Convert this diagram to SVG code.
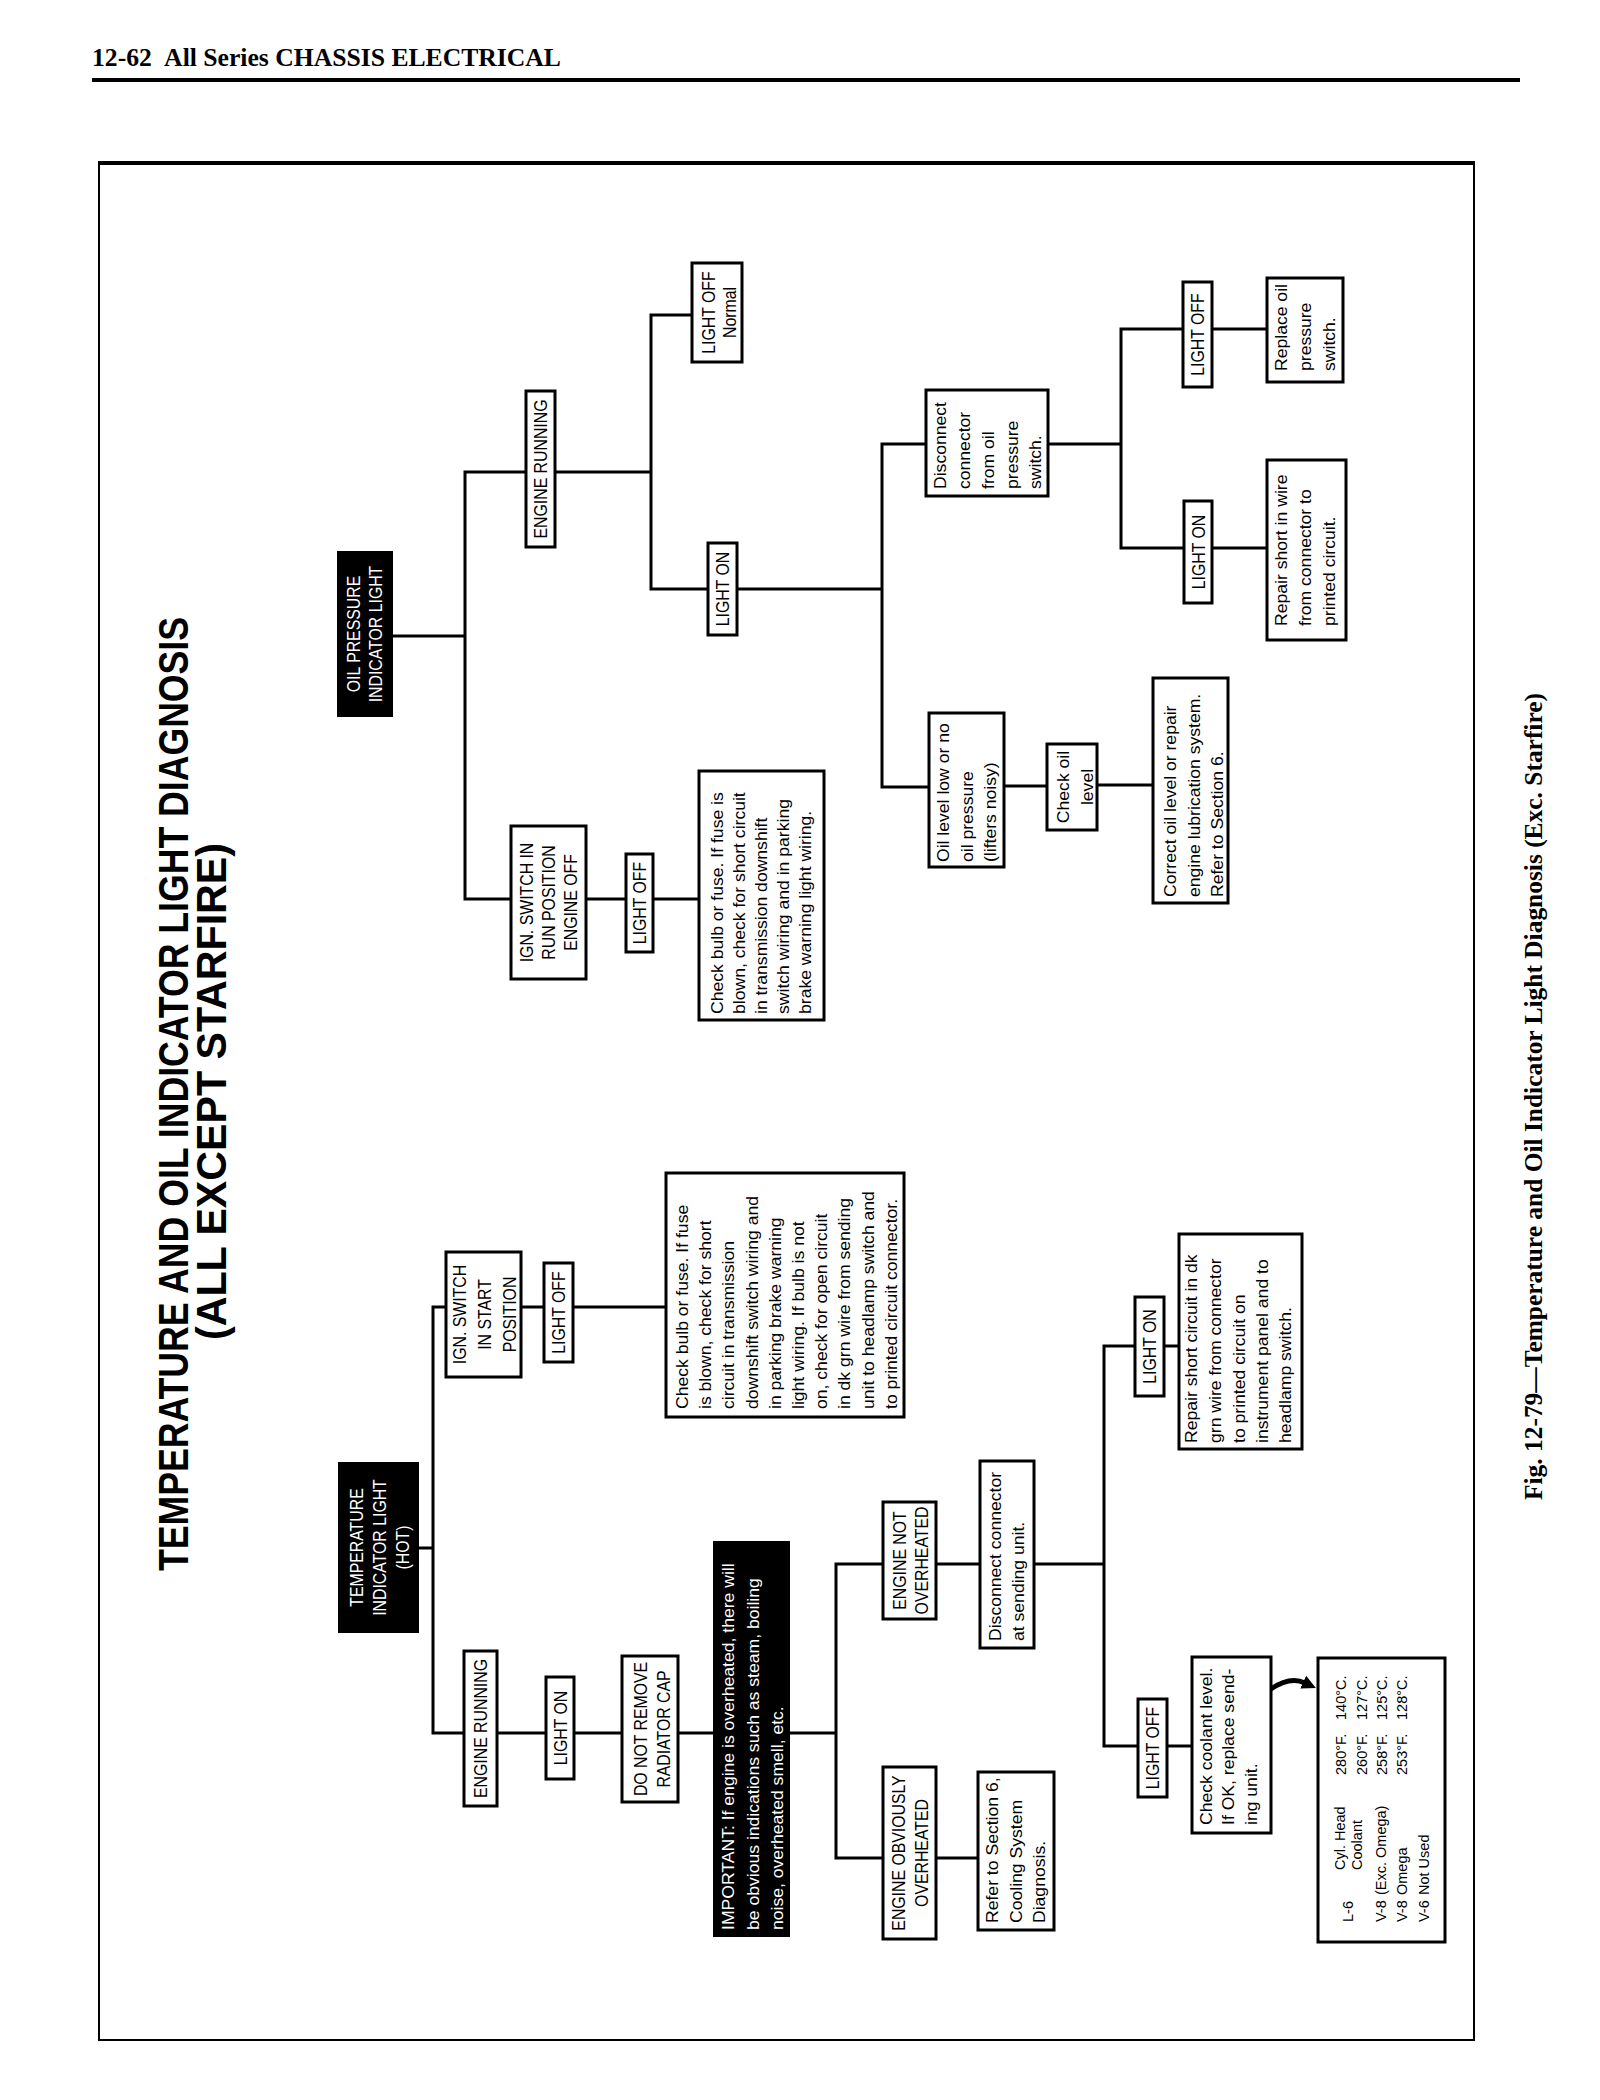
<svg xmlns="http://www.w3.org/2000/svg" width="1600" height="2100" viewBox="0 0 1600 2100">
<style>
.bx{fill:#fff;stroke:#000;stroke-width:3}
.bk{fill:#000;stroke:#000;stroke-width:2}
.lb{font-family:'Liberation Sans',Arial,sans-serif;font-size:18px;fill:#000}
.bd{font-family:'Liberation Sans',Arial,sans-serif;font-size:16px;fill:#000}
.tb{font-family:'Liberation Sans',Arial,sans-serif;font-size:14.5px;fill:#000}
.tt{font-family:'Liberation Sans',Arial,sans-serif;font-size:42px;font-weight:bold;fill:#000}
.cap{font-family:'Liberation Serif','Times New Roman',serif;font-weight:bold;fill:#000}
.w{fill:#fff}
.c{text-anchor:middle}
.cn{fill:none;stroke:#000;stroke-width:3;stroke-linecap:square}
</style>
<defs>
<marker id="ah" markerUnits="userSpaceOnUse" markerWidth="16" markerHeight="16" refX="2" refY="8" orient="auto"><path d="M0,1 L14,8 L0,15 Z" fill="#000"/></marker>
</defs>
<rect width="1600" height="2100" fill="#fff"/>
<g id="header">
<text class="cap" x="92" y="66" font-size="25" textLength="469" lengthAdjust="spacingAndGlyphs">12-62<tspan dx="12">All Series CHASSIS ELECTRICAL</tspan></text>
<line x1="92" y1="80" x2="1520" y2="80" stroke="#000" stroke-width="4"/>
</g>
<g id="frame">
<rect x="99" y="162" width="1375" height="1878" fill="none" stroke="#000" stroke-width="2"/>
<line x1="99" y1="163" x2="1474" y2="163" stroke="#000" stroke-width="4"/>
</g>
<g transform="translate(0,2100) rotate(-90)">
<g id="title">
<text class="tt" x="529" y="188" textLength="954" lengthAdjust="spacingAndGlyphs">TEMPERATURE AND OIL INDICATOR LIGHT DIAGNOSIS</text>
<text class="tt" x="760" y="226" textLength="497" lengthAdjust="spacingAndGlyphs">(ALL EXCEPT STARFIRE)</text>
</g>
<g id="caption">
<text class="cap" x="600" y="1542" font-size="26" textLength="807" lengthAdjust="spacingAndGlyphs">Fig. 12-79—Temperature and Oil Indicator Light Diagnosis (Exc. Starfire)</text>
</g>
<g id="connectors">
<path class="cn" d="M1464,392V465 M1628,465H1201 M1628,465V526 M1628,555V651 M1785,651H1511 M1785,651V692 M1511,651V708 M1511,737V882 M1656,882H1313 M1656,882V926 M1656,1048V1121 M1771,1121H1552 M1771,1121V1183 M1771,1212V1267 M1552,1121V1184 M1552,1212V1267 M1313,882V929 M1314,1004V1047 M1315,1097V1153 M1201,465V511 M1201,586V626 M1201,653V699"/>
<path class="cn" d="M552,418V433 M793,433H367 M793,433V446 M793,521V544 M793,573V666 M367,433V464 M367,497V546 M367,574V622 M367,678V714 M367,789V836 M536,836H242 M536,836V883 M536,936V980 M536,1034V1104 M754,1104H354 M754,1104V1135 M754,1164V1179 M354,1104V1138 M354,1167V1192 M242,836V883 M242,936V978"/>
<path d="M411,1271 Q424,1290 417,1305" fill="none" stroke="#000" stroke-width="5" marker-end="url(#ah)"/>
</g>
<g id="n-oil">
<rect class="bk" x="1384" y="338" width="164" height="54"/>
<text class="lb c w" transform="translate(1466,0) scale(.88,1)"><tspan x="0" y="360.5">OIL PRESSURE</tspan><tspan x="0" y="382.5">INDICATOR LIGHT</tspan></text>
</g>
<g id="n-oil-running">
<rect class="bx" x="1553" y="526" width="156" height="29"/>
<text class="lb c" transform="translate(1631,547) scale(.88,1)">ENGINE RUNNING</text>
</g>
<g id="n-oil-normal">
<rect class="bx" x="1738" y="692" width="99" height="50"/>
<text class="lb c" transform="translate(1787.5,0) scale(.88,1)"><tspan x="0" y="715.5">LIGHT OFF</tspan><tspan x="0" y="736">Normal</tspan></text>
</g>
<g id="n-oil-lighton">
<rect class="bx" x="1465" y="708" width="92" height="29"/>
<text class="lb c" transform="translate(1511,729) scale(.88,1)">LIGHT ON</text>
</g>
<g id="n-oil-ign">
<rect class="bx" x="1121" y="511" width="153" height="75"/>
<text class="lb c" transform="translate(1197.5,0) scale(.88,1)"><tspan x="0" y="533">IGN. SWITCH IN</tspan><tspan x="0" y="555">RUN POSITION</tspan><tspan x="0" y="577">ENGINE OFF</tspan></text>
</g>
<g id="n-oil-lightoff">
<rect class="bx" x="1148" y="626" width="98" height="27"/>
<text class="lb c" transform="translate(1197,646) scale(.88,1)">LIGHT OFF</text>
</g>
<g id="n-oil-checkbulb">
<rect class="bx" x="1080" y="699" width="249" height="125"/>
<text class="bd" transform="translate(1086,0) scale(1.1,1)"><tspan x="0" y="723">Check bulb or fuse.  If fuse is</tspan><tspan x="0" y="745">blown,  check for short circuit</tspan><tspan x="0" y="767">in transmission downshift</tspan><tspan x="0" y="789">switch wiring and in parking</tspan><tspan x="0" y="811">brake warning light wiring.</tspan></text>
</g>
<g id="n-oil-disconnect">
<rect class="bx" x="1604" y="926" width="106" height="122"/>
<text class="bd" transform="translate(1611,0) scale(1.1,1)"><tspan x="0" y="946">Disconnect</tspan><tspan x="0" y="970">connector</tspan><tspan x="0" y="994">from oil</tspan><tspan x="0" y="1018">pressure</tspan><tspan x="0" y="1041">switch.</tspan></text>
</g>
<g id="n-oil-level">
<rect class="bx" x="1233" y="929" width="154" height="75"/>
<text class="bd" transform="translate(1238,0) scale(1.1,1)"><tspan x="0" y="949">Oil level low or no</tspan><tspan x="0" y="973">oil pressure</tspan><tspan x="0" y="996">(lifters noisy)</tspan></text>
</g>
<g id="n-oil-checkoil">
<rect class="bx" x="1270" y="1047" width="86" height="50"/>
<text class="bd c" transform="translate(1313,0) scale(1.1,1)"><tspan x="0" y="1069">Check oil</tspan><tspan x="0" y="1093">level</tspan></text>
</g>
<g id="n-oil-correct">
<rect class="bx" x="1197" y="1153" width="225" height="75"/>
<text class="bd" transform="translate(1203,0) scale(1.1,1)"><tspan x="0" y="1176">Correct oil level or repair</tspan><tspan x="0" y="1200">engine lubrication system.</tspan><tspan x="0" y="1223">Refer to Section 6.</tspan></text>
</g>
<g id="n-oil-lightoff2">
<rect class="bx" x="1713" y="1183" width="105" height="29"/>
<text class="lb c" transform="translate(1765.5,1204) scale(.88,1)">LIGHT OFF</text>
</g>
<g id="n-oil-replace">
<rect class="bx" x="1718" y="1267" width="104" height="76"/>
<text class="bd" transform="translate(1729,0) scale(1.1,1)"><tspan x="0" y="1287">Replace oil</tspan><tspan x="0" y="1311">pressure</tspan><tspan x="0" y="1335">switch.</tspan></text>
</g>
<g id="n-oil-lighton2">
<rect class="bx" x="1497" y="1184" width="102" height="28"/>
<text class="lb c" transform="translate(1548,1204.5) scale(.88,1)">LIGHT ON</text>
</g>
<g id="n-oil-repair">
<rect class="bx" x="1460" y="1267" width="180" height="79"/>
<text class="bd" transform="translate(1474,0) scale(1.1,1)"><tspan x="0" y="1287">Repair short in wire</tspan><tspan x="0" y="1311">from connector to</tspan><tspan x="0" y="1335">printed circuit.</tspan></text>
</g>
<g id="n-temp">
<rect class="bk" x="468" y="339" width="169" height="79"/>
<text class="lb c w" transform="translate(552.5,0) scale(.88,1)"><tspan x="0" y="363">TEMPERATURE</tspan><tspan x="0" y="386">INDICATOR LIGHT</tspan><tspan x="0" y="409">(HOT)</tspan></text>
</g>
<g id="n-temp-ign">
<rect class="bx" x="723" y="446" width="125" height="75"/>
<text class="lb c" transform="translate(785.5,0) scale(.88,1)"><tspan x="0" y="466">IGN. SWITCH</tspan><tspan x="0" y="491">IN START</tspan><tspan x="0" y="516">POSITION</tspan></text>
</g>
<g id="n-temp-lightoff">
<rect class="bx" x="738" y="544" width="99" height="29"/>
<text class="lb c" transform="translate(787.5,565) scale(.88,1)">LIGHT OFF</text>
</g>
<g id="n-temp-checkbulb">
<rect class="bx" x="683" y="666" width="244" height="238"/>
<text class="bd" transform="translate(691,0) scale(1.1,1)"><tspan x="0" y="688">Check bulb or fuse.  If fuse</tspan><tspan x="0" y="711">is blown,  check for  short</tspan><tspan x="0" y="734">circuit in transmission</tspan><tspan x="0" y="758">downshift switch wiring and</tspan><tspan x="0" y="781">in parking brake warning</tspan><tspan x="0" y="804">light wiring.  If bulb is not</tspan><tspan x="0" y="827">on,  check for open circuit</tspan><tspan x="0" y="850">in dk grn wire from sending</tspan><tspan x="0" y="874">unit to headlamp switch and</tspan><tspan x="0" y="897">to printed circuit connector.</tspan></text>
</g>
<g id="n-temp-running">
<rect class="bx" x="294" y="464" width="155" height="33"/>
<text class="lb c" transform="translate(371.5,487) scale(.88,1)">ENGINE RUNNING</text>
</g>
<g id="n-temp-lighton">
<rect class="bx" x="321" y="546" width="102" height="28"/>
<text class="lb c" transform="translate(372,566.5) scale(.88,1)">LIGHT ON</text>
</g>
<g id="n-temp-radcap">
<rect class="bx" x="298" y="622" width="146" height="56"/>
<text class="lb c" transform="translate(371,0) scale(.88,1)"><tspan x="0" y="647.5">DO NOT REMOVE</tspan><tspan x="0" y="670.5">RADIATOR CAP</tspan></text>
</g>
<g id="n-temp-important">
<rect class="bk" x="164" y="714" width="394" height="75"/>
<text class="bd w" transform="translate(170,0) scale(1.1,1)"><tspan x="0" y="734">IMPORTANT:  If engine is overheated,  there will</tspan><tspan x="0" y="759">be obvious indications such as steam,  boiling</tspan><tspan x="0" y="783">noise,  overheated smell,  etc.</tspan></text>
</g>
<g id="n-temp-notover">
<rect class="bx" x="481" y="883" width="117" height="53"/>
<text class="lb c" transform="translate(539.5,0) scale(.88,1)"><tspan x="0" y="906.5">ENGINE NOT</tspan><tspan x="0" y="928.5">OVERHEATED</tspan></text>
</g>
<g id="n-temp-disconnect">
<rect class="bx" x="452" y="980" width="187" height="54"/>
<text class="bd" transform="translate(459,0) scale(1.1,1)"><tspan x="0" y="1001">Disconnect connector</tspan><tspan x="0" y="1024">at  sending  unit.</tspan></text>
</g>
<g id="n-temp-obvious">
<rect class="bx" x="161" y="883" width="172" height="53"/>
<text class="lb c" transform="translate(247,0) scale(.88,1)"><tspan x="0" y="905.5">ENGINE OBVIOUSLY</tspan><tspan x="0" y="928.5">OVERHEATED</tspan></text>
</g>
<g id="n-temp-refer">
<rect class="bx" x="170" y="978" width="158" height="76"/>
<text class="bd" transform="translate(177,0) scale(1.1,1)"><tspan x="0" y="998">Refer to Section 6,</tspan><tspan x="0" y="1022">Cooling  System</tspan><tspan x="0" y="1045">Diagnosis.</tspan></text>
</g>
<g id="n-temp-lighton2">
<rect class="bx" x="704" y="1135" width="99" height="29"/>
<text class="lb c" transform="translate(753.5,1156) scale(.88,1)">LIGHT ON</text>
</g>
<g id="n-temp-repair">
<rect class="bx" x="651" y="1179" width="215" height="123"/>
<text class="bd" transform="translate(657,0) scale(1.1,1)"><tspan x="0" y="1197">Repair short circuit in dk</tspan><tspan x="0" y="1221">grn wire from connector</tspan><tspan x="0" y="1245">to printed circuit on</tspan><tspan x="0" y="1268">instrument panel and to</tspan><tspan x="0" y="1291">headlamp switch.</tspan></text>
</g>
<g id="n-temp-lightoff2">
<rect class="bx" x="303" y="1138" width="98" height="29"/>
<text class="lb c" transform="translate(352,1159) scale(.88,1)">LIGHT OFF</text>
</g>
<g id="n-temp-coolant">
<rect class="bx" x="267" y="1192" width="176" height="79"/>
<text class="bd" transform="translate(275,0) scale(1.1,1)"><tspan x="0" y="1212">Check coolant level.</tspan><tspan x="0" y="1234">If OK,  replace send-</tspan><tspan x="0" y="1257">ing unit.</tspan></text>
</g>
<g id="n-temp-table">
<rect class="bx" x="158" y="1318" width="284" height="127"/>
<text class="tb" x="178" y="1353">L-6</text>
<text class="tb" x="230" y="1345">Cyl.  Head</text>
<text class="tb" x="230" y="1362">Coolant</text>
<text class="tb" x="178" y="1386">V-8</text>
<text class="tb" x="205" y="1386">(Exc.  Omega)</text>
<text class="tb" x="178" y="1407">V-8</text>
<text class="tb" x="205" y="1407">Omega</text>
<text class="tb" x="178" y="1429">V-6</text>
<text class="tb" x="205" y="1429">Not Used</text>
<text class="tb" x="325" y="1346">280°F.</text>
<text class="tb" x="380" y="1346">140°C.</text>
<text class="tb" x="325" y="1367">260°F.</text>
<text class="tb" x="380" y="1367">127°C.</text>
<text class="tb" x="325" y="1387">258°F.</text>
<text class="tb" x="380" y="1387">125°C.</text>
<text class="tb" x="325" y="1407">253°F.</text>
<text class="tb" x="380" y="1407">128°C.</text>
</g>
</g>
</svg>
